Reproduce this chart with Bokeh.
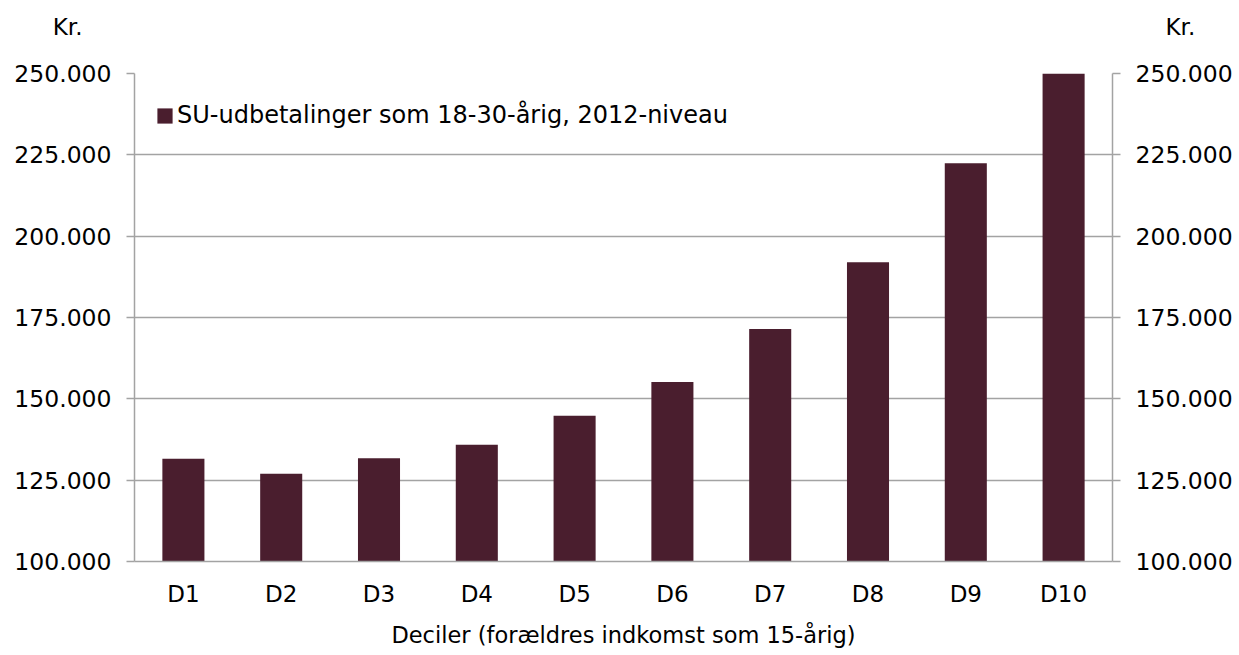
from bokeh.plotting import figure
from bokeh.layouts import column
from bokeh.models import (Range1d, LinearAxis, FixedTicker, Legend, LegendItem)
from bokeh.embed import file_html
from bokeh.resources import INLINE

categories = ["D1", "D2", "D3", "D4", "D5", "D6", "D7", "D8", "D9", "D10"]
values = [131600, 127000, 131700, 135900, 144800, 155200, 171500, 192000, 222400, 258000]
series_name = "SU-udbetalinger som 18-30-årig, 2012-niveau"
tick_values = [100000, 125000, 150000, 175000, 200000, 225000, 250000]
tick_labels = ["100.000", "125.000", "150.000", "175.000", "200.000", "225.000", "250.000"]
x_title = "Deciler (forældres indkomst som 15-årig)"
unit_label = "Kr."

FONT = "DejaVu Sans"
BAR = "#4A1E2E"
GRID = "#A3A3A3"
W = 1239
TOP_H = 53

# --- header strip: the two "Kr." unit labels, drawn as axis labels ---
top = figure(width=W, height=TOP_H, x_range=Range1d(0, 1), y_range=Range1d(0, TOP_H),
             output_backend="svg", toolbar_location=None,
             min_border_left=134, min_border_right=127, min_border_top=0, min_border_bottom=0,
             x_axis_location=None, y_axis_location=None)
top.outline_line_color = None
top.grid.visible = False
unit_y = TOP_H - 26
for loc, standoff in [("left", 52), ("right", 53)]:
    ua = LinearAxis(ticker=FixedTicker(ticks=[unit_y]))
    ua.major_label_overrides = {unit_y: unit_label}
    ua.axis_line_color = None
    ua.major_tick_line_color = None
    ua.major_tick_out = 0
    ua.major_tick_in = 0
    ua.minor_tick_out = 0
    ua.minor_tick_in = 0
    ua.major_label_standoff = standoff
    ua.major_label_text_font = FONT
    ua.major_label_text_font_size = "23px"
    ua.major_label_text_color = "black"
    top.add_layout(ua, loc)

# --- main chart ---
p = figure(x_range=categories, y_range=Range1d(100000, 250000),
           width=W, height=655 - TOP_H, output_backend="svg", toolbar_location=None,
           min_border_left=134, min_border_right=127, min_border_top=20,
           min_border_bottom=94, y_axis_location=None)
p.outline_line_color = None
p.background_fill_color = "white"
p.border_fill_color = "white"

r = p.vbar(x=categories, top=values, bottom=100000, width=0.43,
           fill_color=BAR, line_color=None)

labels_map = {v: l for v, l in zip(tick_values, tick_labels)}

for loc in ["left", "right"]:
    ax = LinearAxis(ticker=FixedTicker(ticks=tick_values))
    ax.major_label_overrides = labels_map
    ax.major_tick_out = 8
    ax.major_tick_in = 0
    ax.minor_tick_out = 0
    ax.minor_tick_in = 0
    ax.axis_line_color = GRID
    ax.axis_line_width = 1.5
    ax.major_tick_line_color = GRID
    ax.major_tick_line_width = 1.5
    ax.major_label_text_font = FONT
    ax.major_label_text_font_size = "23.5px"
    ax.major_label_text_color = "black"
    ax.major_label_standoff = 15
    p.add_layout(ax, loc)

xa = p.xaxis[0]
xa.major_tick_out = 0
xa.major_tick_in = 0
xa.axis_line_color = GRID
xa.axis_line_width = 1.5
xa.major_label_text_font = FONT
xa.major_label_text_font_size = "23px"
xa.major_label_text_color = "black"
xa.major_label_standoff = 19
xa.axis_label = x_title
xa.axis_label_text_font = FONT
xa.axis_label_text_font_size = "22.5px"
xa.axis_label_text_font_style = "normal"
xa.axis_label_text_color = "black"
xa.axis_label_standoff = 12

p.xgrid.grid_line_color = None
p.ygrid.ticker = FixedTicker(ticks=tick_values)
p.ygrid.grid_line_color = GRID
p.ygrid.grid_line_width = 1.5

legend = Legend(items=[LegendItem(label=series_name, renderers=[r])],
                location=(21, 432), orientation="vertical")
legend.glyph_width = 19
legend.glyph_height = 19
legend.label_standoff = 3
legend.label_text_font = FONT
legend.label_text_font_size = "24px"
legend.label_text_color = "black"
legend.padding = 0
legend.margin = 0
legend.border_line_color = None
legend.background_fill_alpha = 0
p.add_layout(legend, "center")

layout = column(top, p, spacing=0)
open("out.html", "w").write(file_html(layout, INLINE))
